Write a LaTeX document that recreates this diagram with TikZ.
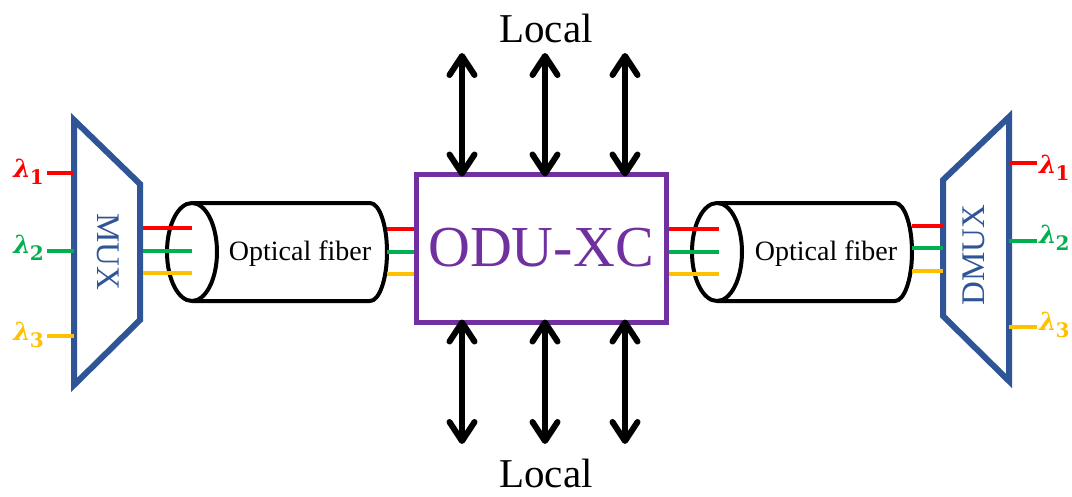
\documentclass[tikz,border=0pt]{standalone}
\usepackage{fontspec}
\setmainfont{Liberation Serif}
\newfontfamily\lamfont{DejaVu Serif}
\usetikzlibrary{arrows.meta}
\definecolor{muxblue}{HTML}{2F5597}
\definecolor{xcpurple}{HTML}{7030A0}
\definecolor{wred}{HTML}{FF0000}
\definecolor{wgreen}{HTML}{00B050}
\definecolor{wyellow}{HTML}{FFC000}
\newcommand{\lamsub}[1]{{\fontsize{25}{27}\lamfont\bfseries\itshape λ}\kern-1pt\raisebox{-7pt}{\fontsize{20}{22}\lamfont\bfseries #1}}
\tikzset{
  muxshape/.style={draw=muxblue, line width=6pt, line join=miter},
  fibershape/.style={draw=black, line width=4pt, fill=white, line join=round},
  chan/.style={line width=4.5pt},
  fibertext/.style={font=\fontsize{28}{30}\selectfont, inner sep=0pt, anchor=base},
  muxtext/.style={font=\fontsize{33}{35}\selectfont, text=muxblue, inner sep=0pt},
  lamtext/.style={inner sep=0pt},
  localtext/.style={font=\fontsize{41}{44}\selectfont, inner sep=0pt, anchor=base},
  localarrow/.style={line width=6pt,
    {Straight Barb[length=19pt,width=25pt,round]}-{Straight Barb[length=19pt,width=25pt,round]}},
}
\begin{document}
\begin{tikzpicture}[x=1pt,y=-1pt]
\useasboundingbox[fill=white] (0,0) rectangle (1072,496);

% ---------- MUX ----------
\coordinate (mtl) at (74,120);
\coordinate (mtr) at (140,184);
\coordinate (mbr) at (140,320);
\coordinate (mbl) at (74,385);
\draw[muxshape] (mtl) -- (mtr) -- (mbr) -- (mbl) -- cycle;
\node[muxtext, rotate=-90] (muxlabel) at (108,252) {MUX};

\node[lamtext, text=wred,    anchor=base east] (lin1) at (44,177) {\lamsub{1}};
\node[lamtext, text=wgreen,  anchor=base east] (lin2) at (44,253) {\lamsub{2}};
\node[lamtext, text=wyellow, anchor=base east] (lin3) at (44,340) {\lamsub{3}};
\draw[chan, wred]    (47,173) -- (74,173);
\draw[chan, wgreen]  (47,251) -- (74,251);
\draw[chan, wyellow] (47,336) -- (74,336);

% ---------- fiber 1 ----------
\draw[fibershape] (192,203) -- (370,203)
  arc[start angle=-90, end angle=90, x radius=17, y radius=49]
  -- (192,301);
\draw[fibershape] (192,252) ellipse [x radius=25, y radius=49];
\node[fibertext] (fib1) at (300,260) {Optical fiber};

\draw[chan, wred]    (143,228) -- (192,228);
\draw[chan, wgreen]  (143,251) -- (192,251);
\draw[chan, wyellow] (143,273) -- (192,273);

% ---------- ODU cross-connect ----------
\node[draw=xcpurple, line width=5pt, minimum width=250pt, minimum height=148pt,
      inner sep=0pt, text=xcpurple, font=\fontsize{58}{60}\selectfont] (xc) at (541,248) {ODU-XC};

\coordinate (fa1) at (387,229);
\coordinate (fa2) at (387,252);
\coordinate (fa3) at (387,274);
\draw[chan, wred]    (fa1) -- (fa1 -| xc.west);
\draw[chan, wgreen]  (fa2) -- (fa2 -| xc.west);
\draw[chan, wyellow] (fa3) -- (fa3 -| xc.west);

% ---------- fiber 2 ----------
\draw[fibershape] (717,203) -- (895,203)
  arc[start angle=-90, end angle=90, x radius=17, y radius=49]
  -- (717,301);
\draw[fibershape] (717,252) ellipse [x radius=25, y radius=49];
\node[fibertext] (fib2) at (826,260) {Optical fiber};

\coordinate (fb1) at (719,229);
\coordinate (fb2) at (719,252);
\coordinate (fb3) at (719,274);
\draw[chan, wred]    (fb1 -| xc.east) -- (fb1);
\draw[chan, wgreen]  (fb2 -| xc.east) -- (fb2);
\draw[chan, wyellow] (fb3 -| xc.east) -- (fb3);

% ---------- DMUX ----------
\coordinate (dtl) at (943,180);
\coordinate (dtr) at (1009,117);
\coordinate (dbr) at (1009,381);
\coordinate (dbl) at (943,316);
\draw[muxshape] (dtl) -- (dtr) -- (dbr) -- (dbl) -- cycle;
\node[muxtext, rotate=90] (dmuxlabel) at (974,255) {DMUX};

\draw[chan, wred]    (912,226) -- (943,226);
\draw[chan, wgreen]  (912,248) -- (943,248);
\draw[chan, wyellow] (912,271) -- (943,271);

\draw[chan, wred]    (1009,163) -- (1037,163);
\draw[chan, wgreen]  (1009,241) -- (1037,241);
\draw[chan, wyellow] (1009,327) -- (1037,327);
\node[lamtext, text=wred,    anchor=base west] (lout1) at (1039,173) {\lamsub{1}};
\node[lamtext, text=wgreen,  anchor=base west] (lout2) at (1039,243) {\lamsub{2}};
\node[lamtext, text=wyellow, anchor=base west] (lout3) at (1039,330) {\lamsub{3}};

% ---------- local add/drop ports ----------
\node[localtext] (ltop) at (546,42) {Local};
\node[localtext] (lbot) at (546,487) {Local};

\foreach \i/\x in {1/462,2/545,3/625}{
  \coordinate (up\i) at (\x,53);
  \coordinate (dn\i) at (\x,444);
  \draw[localarrow] (up\i) -- ([yshift=-5pt]up\i |- xc.north);
  \draw[localarrow] ([yshift=5pt]dn\i |- xc.south) -- (dn\i);
}
\end{tikzpicture}
\end{document}
